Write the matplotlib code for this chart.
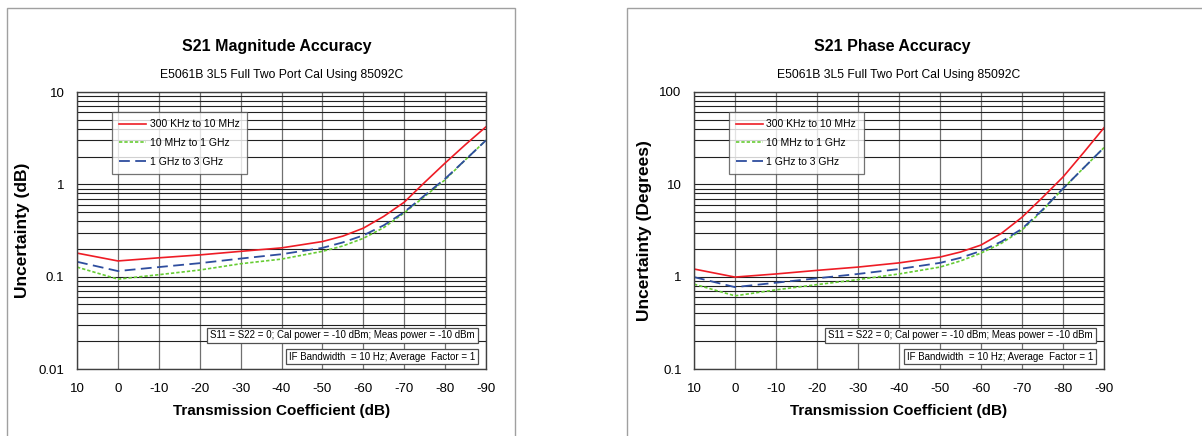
import numpy as np
import matplotlib.pyplot as plt
from matplotlib.patches import Rectangle
from matplotlib.ticker import FixedLocator, LogLocator, NullFormatter

plt.rcParams['font.family'] = ['Liberation Sans', 'DejaVu Sans']
plt.rcParams['axes.unicode_minus'] = False

# transmission coefficient (dB)
trans = [10, 0, -10, -20, -30, -40, -50, -55, -60, -65, -70, -75, -80, -85, -90]

# magnitude uncertainty (dB)
mag_low = [0.18, 0.148, 0.16, 0.172, 0.188, 0.205, 0.24, 0.275, 0.335, 0.45, 0.64, 1.05, 1.7, 2.7, 4.2]
mag_mid = [0.127, 0.094, 0.105, 0.118, 0.138, 0.155, 0.188, 0.215, 0.26, 0.34, 0.49, 0.74, 1.12, 1.85, 3.0]
mag_high = [0.145, 0.115, 0.127, 0.14, 0.157, 0.175, 0.205, 0.235, 0.28, 0.36, 0.5, 0.76, 1.15, 1.85, 3.0]

# phase uncertainty (degrees)
ph_low = [1.21, 0.99, 1.07, 1.17, 1.27, 1.41, 1.63, 1.85, 2.2, 2.95, 4.4, 7.2, 12.0, 22.0, 41.0]
ph_mid = [0.83, 0.62, 0.72, 0.82, 0.93, 1.07, 1.27, 1.48, 1.8, 2.3, 3.2, 5.2, 9.0, 15.0, 25.0]
ph_high = [0.99, 0.77, 0.86, 0.96, 1.07, 1.21, 1.41, 1.6, 1.9, 2.4, 3.3, 5.3, 9.0, 15.0, 25.0]

labels = ["300 KHz to 10 MHz", "10 MHz to 1 GHz", "1 GHz to 3 GHz"]
note1 = "S11 = S22 = 0; Cal power = -10 dBm; Meas power = -10 dBm"
note2 = "IF Bandwidth  = 10 Hz; Average  Factor = 1"

W, H = 1202, 436
fig = plt.figure(figsize=(W / 100, H / 100), dpi=100)

# chart borders
fig.patches.append(Rectangle((7 / W, -0.1), 508 / W, 1.1 - 8 / H, transform=fig.transFigure,
                             fill=False, edgecolor='#a0a0a0', lw=1.0))
fig.patches.append(Rectangle((627 / W, -0.1), 600 / W, 1.1 - 8 / H, transform=fig.transFigure,
                             fill=False, edgecolor='#a0a0a0', lw=1.0))


def make_panel(x0, x1, series, ylo, yhi, ticks, ticklabels, ylabel, title, tcx, scx, ylx):
    ax = fig.add_axes([x0 / W, 1 - 369 / H, (x1 - x0) / W, (369 - 92) / H])
    ax.set_yscale('log')
    ax.set_xlim(10, -90)
    ax.set_ylim(ylo, yhi)
    ax.xaxis.set_major_locator(FixedLocator(np.arange(10, -91, -10)))
    ax.yaxis.set_major_locator(FixedLocator(ticks))
    ax.set_yticklabels(ticklabels)
    ax.yaxis.set_minor_locator(LogLocator(base=10, subs=np.arange(2, 10)))
    ax.yaxis.set_minor_formatter(NullFormatter())
    ax.grid(True, which='major', axis='x', color='#707070', lw=0.9)
    ax.grid(True, which='both', axis='y', color='#202020', lw=0.8)
    ax.tick_params(which='both', length=0, labelsize=9.5)
    ax.tick_params(axis='x', pad=10)
    ax.tick_params(axis='y', pad=9)
    for s in ax.spines.values():
        s.set_color('#404040')
        s.set_linewidth(1.0)

    styles = [dict(color='#ee1c25', ls='-', lw=1.2),
              dict(color='#66cc33', ls=(0, (2, 1.2)), lw=1.2),
              dict(color='#2e4d9e', ls=(0, (6, 3)), lw=1.3)]
    for vals, st, lab in zip(series, styles, labels):
        ax.plot(trans, vals, label=lab, **st)

    leg = ax.legend(loc='upper left', bbox_to_anchor=(35 / (x1 - x0), 1 - 20 / 277),
                    fontsize=7.5, frameon=True, fancybox=False, handlelength=2.6,
                    handletextpad=0.3, labelspacing=0.85, borderpad=0.7, borderaxespad=0)
    leg.get_frame().set_edgecolor('#505050')
    leg.get_frame().set_linewidth(0.9)

    ax.set_xlabel("Transmission Coefficient (dB)", fontsize=11, fontweight='bold')
    ax.xaxis.set_label_coords(0.5, -(404 - 369) / 277)
    ax.set_ylabel(ylabel, fontsize=12.5, fontweight='bold')
    ax.yaxis.set_label_coords(-(x0 - ylx) / (x1 - x0), 0.5)

    bb = dict(boxstyle='square,pad=0.3', fc='white', ec='#505050', lw=0.9)
    ax.text(1 - 11 / (x1 - x0), 1 - (335.5 - 92) / 277, note1, transform=ax.transAxes,
            ha='right', va='center', fontsize=7, bbox=bb)
    ax.text(1 - 11 / (x1 - x0), 1 - (356.5 - 92) / 277, note2, transform=ax.transAxes,
            ha='right', va='center', fontsize=7, bbox=bb)

    fig.text(tcx / W, 1 - 46 / H, title, ha='center', va='center', fontsize=11.5, fontweight='bold')
    fig.text(scx / W, 1 - 75 / H, "E5061B 3L5 Full Two Port Cal Using 85092C",
             ha='center', va='center', fontsize=8.75)
    return ax


make_panel(77, 486, [mag_low, mag_mid, mag_high], 0.01, 10, [0.01, 0.1, 1, 10],
           ["0.01", "0.1", "1", "10"], "Uncertainty (dB)", "S21 Magnitude Accuracy", 277, 282, 30)
make_panel(694, 1104, [ph_low, ph_mid, ph_high], 0.1, 100, [0.1, 1, 10, 100],
           ["0.1", "1", "10", "100"], "Uncertainty (Degrees)", "S21 Phase Accuracy", 892, 899, 652)

fig.savefig("out.png", dpi=100)
